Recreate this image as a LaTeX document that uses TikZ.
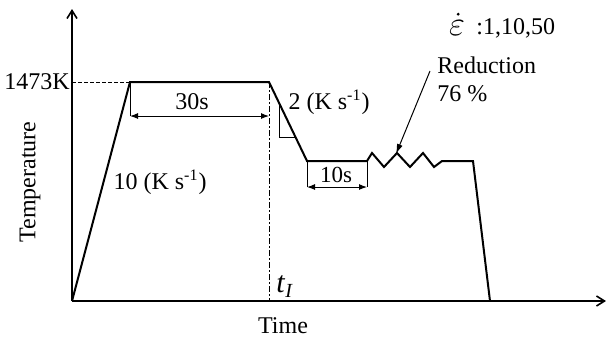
\documentclass[tikz,border=0pt]{standalone}
\usepackage{fontspec}
\setmainfont{Liberation Serif}
\usetikzlibrary{arrows.meta}
\begin{document}
\begin{tikzpicture}[x=0.5pt,y=-0.5pt,
  axis/.style={line width=0.8pt,-{Straight Barb[length=4pt,width=5pt]}},
  profile/.style={line width=1pt,line join=miter},
  thin/.style={line width=0.5pt},
  dim/.style={line width=0.5pt,{Latex[length=4pt,width=3pt]}-{Latex[length=4pt,width=3pt]}},
  lbl/.style={inner sep=0pt,font=\fontsize{12}{14}\selectfont}]
\useasboundingbox (0,0) rectangle (606,339);
% key points
\coordinate (O) at (72,301);
\coordinate (Ytop) at (72,9);
\coordinate (Xend) at (606,301);
\coordinate (A) at (130,82);
\coordinate (B) at (269,82);
\coordinate (C) at (307,161);
\coordinate (D) at (367,161);
\coordinate (E) at (442,161);
\coordinate (F) at (473,161);
\coordinate (G) at (490,301);
\coordinate (Ylev) at (72,82);
\coordinate (Bbot) at (269,301);
% axes
\draw[axis] (O) -- (Ytop);
\draw[axis] (O) -- (Xend);
% 1473K dashed
\draw[thin,dash pattern=on 2pt off 1pt] (Ylev) -- (A);
% profile
\draw[profile] (O) -- (A) -- (B) -- (C) -- (D)
  -- (372,153) -- (384,167) -- (397,153) -- (410,167) -- (423,153) -- (434,167) -- (E)
  -- (F) -- (G);
% dash-dot line
\draw[thin,dash pattern=on 3pt off 1.2pt on 0.6pt off 1.2pt] (B) -- (Bbot);
% 30s dimension
\coordinate (A1) at (130,116);
\coordinate (B1) at (269,116);
\draw[thin] (A) -- (A1);
\draw[dim] (A1) -- (B1);
% triangle on slope
\coordinate (T1) at (279,103);
\coordinate (T2) at (279,137);
\coordinate (T3) at (295,137);
\draw[thin] (T1) -- (T2) -- (T3);
% 10s dimension
\coordinate (C1) at (307,187);
\coordinate (D1) at (367,187);
\draw[thin] (C) -- (C1);
\draw[thin] (D) -- (D1);
\draw[dim] (C1) -- (D1);
% labels
\node[lbl,anchor=east] (k1473) at (70,82) {1473K};
\node[lbl] (s30) at (192,102) {30s};
\node[lbl] (r10) at (160,182) {10 (K s\textsuperscript{-1})};
\node[lbl] (r2) at (329,102) {2 (K s\textsuperscript{-1})};
\node[lbl,font=\fontsize{11.5}{14}\selectfont] (s10) at (336,175) {10s};
\node[inner sep=0pt] (eps) at (457,28) {\fontsize{16}{18}\selectfont$\varepsilon$};
\fill ([xshift=0.6pt,yshift=3pt]eps.north) circle (0.8pt);
\node[lbl,anchor=west] (vals) at (476,28) {:1,10,50};
\node[lbl,anchor=west] (red) at (437,65) {Reduction};
\node[lbl,anchor=west] (pct) at (437,94) {76 \%};
\node[lbl,rotate=90] (temp) at (30,182) {Temperature};
\node[lbl] (time) at (283,326) {Time};
\node[inner sep=0pt,anchor=south west] (tI) at (276,298) {\fontsize{15}{16}\selectfont\textit{t}\raisebox{-0.35ex}{\fontsize{10}{12}\selectfont\textit{I}}};
% reduction arrow
\coordinate (Rs) at (430,71);
\coordinate (Re) at (396,154);
\draw[thin,-{Latex[length=5pt,width=3pt]}] (Rs) -- (Re);
\end{tikzpicture}
\end{document}
